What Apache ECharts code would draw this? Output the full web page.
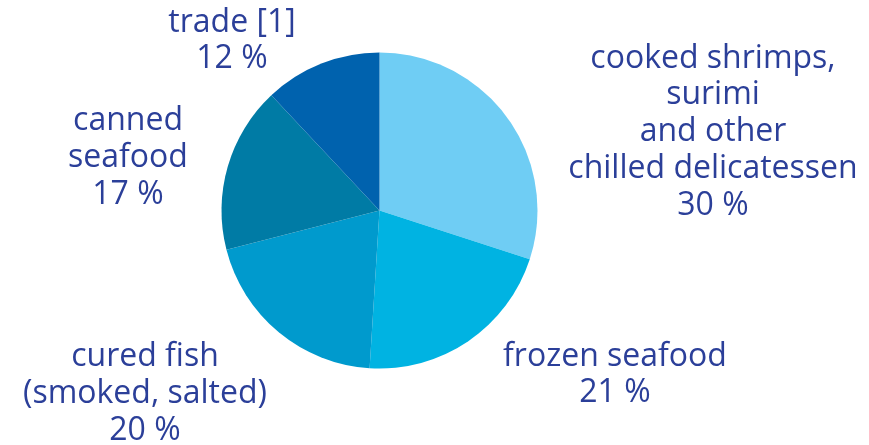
<!DOCTYPE html>
<html>
<head>
<meta charset="utf-8">
<script src="https://cdn.jsdelivr.net/npm/echarts@6/dist/echarts.min.js"></script>
<style>
html,body{margin:0;padding:0;background:#fff;}
#c{width:869px;height:445px;}
</style>
</head>
<body>
<div id="c"></div>
<script>
const categories = [
  "cooked shrimps,\nsurimi\nand other\nchilled delicatessen",
  "frozen seafood",
  "cured fish\n(smoked, salted)",
  "canned\nseafood",
  "trade [1]"
];
const values = [30, 21, 20, 17, 12];
const colors = ["#6fcdf4", "#00b3e2", "#009acd", "#007ba5", "#0062ae"];
const labelPos = [
  [713, 132],
  [615, 375],
  [145, 394],
  [128, 158],
  [232, 41]
];

const chart = echarts.init(document.getElementById('c'), null, {renderer: 'canvas'});
chart.setOption({
  animation: false,
  series: [{
    type: 'pie',
    center: [379.5, 210.5],
    radius: [0, 158],
    startAngle: 90,
    clockwise: true,
    data: categories.map((n, i) => ({name: n, value: values[i], itemStyle: {color: colors[i]}})),
    itemStyle: {borderWidth: 0},
    label: {
      show: true,
      formatter: p => p.name + '\n' + p.value + ' %',
      color: '#2b3f99',
      fontFamily: 'Open Sans',
      fontSize: 32,
      lineHeight: 36.7,
      align: 'center',
      overflow: 'none',
      width: 400
    },
    labelLine: {show: false},
    labelLayout: function (params) {
      const p = labelPos[params.dataIndex];
      return {x: p[0], y: p[1], align: 'center', verticalAlign: 'middle'};
    },
    emphasis: {disabled: true}
  }]
});
</script>
</body>
</html>
